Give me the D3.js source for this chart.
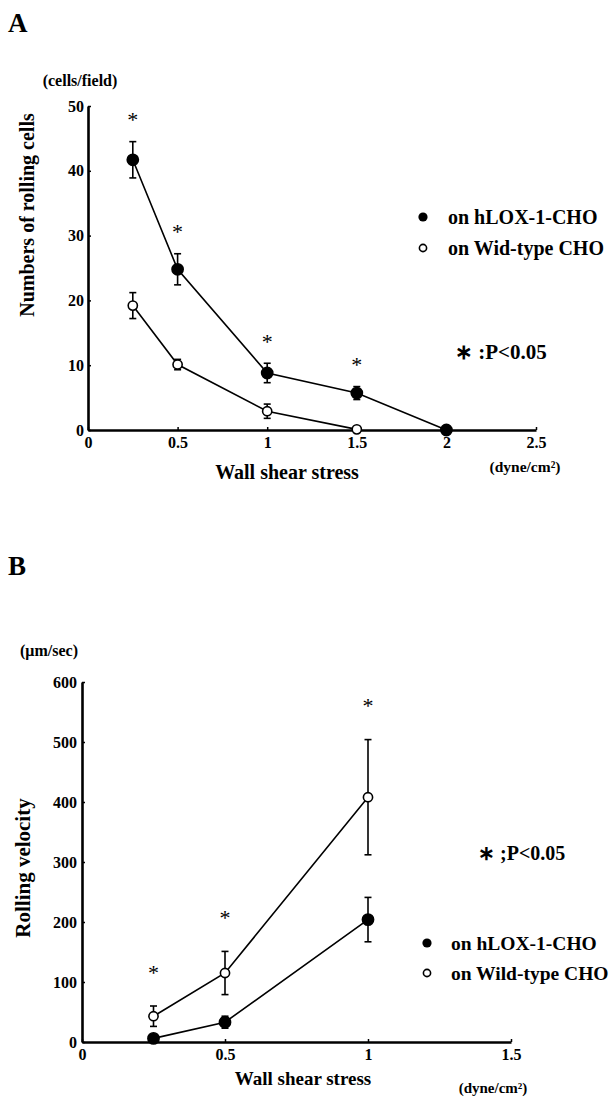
<!DOCTYPE html>
<html>
<head>
<meta charset="utf-8">
<script src="https://cdn.jsdelivr.net/npm/d3@7"></script>
<style>
  body { margin: 0; background: #fff; }
  svg text { font-family: "Liberation Serif", "Times New Roman", serif; fill: #000; }
</style>
</head>
<body>
<script>
// panel A - numbers of rolling cells
const shearA = [0.25, 0.5, 1, 1.5, 2]
const loxA = [41.7, 24.8, 8.8, 5.7, 0]
const loxErrA = [2.8, 2.4, 1.5, 1.0, 0]
const wildShearA = [0.25, 0.5, 1, 1.5]
const wildA = [19.2, 10.1, 2.9, 0.1]
const wildErrA = [2.0, 0.8, 1.1, 0]
const starsA = [0.25, 0.5, 1, 1.5]
const xTicksA = [0, 0.5, 1, 1.5, 2, 2.5]
const yTicksA = [0, 10, 20, 30, 40, 50]

// panel B - rolling velocity
const shearB = [0.25, 0.5, 1]
const loxB = [6, 33, 204]
const loxErrB = [0, 10, 37]
const wildB = [43, 115, 408]
const wildErrB = [17, 36, 96]
const starsB = [0.25, 0.5, 1]
const xTicksB = [0, 0.5, 1, 1.5]
const yTicksB = [0, 100, 200, 300, 400, 500, 600]

const legendLabels = ["on hLOX-1-CHO", "on Wid-type CHO", "on Wild-type CHO"]

let svg = d3.select("body").append("svg")
    .attr("width", 615)
    .attr("height", 1097)

function label(x, y, size, txt, anchor) {
    return svg.append("text").attr("x", x).attr("y", y)
        .attr("text-anchor", anchor || "start")
        .attr("font-size", size).attr("font-weight", "bold").text(txt)
}

function drawPanel(opt) {
    let x = d3.scaleLinear().domain(opt.xDomain).range(opt.xRange)
    let y = d3.scaleLinear().domain(opt.yDomain).range(opt.yRange)
    let g = svg.append("g")

    let fmt = d => String(d)

    g.append("g")
        .attr("transform", `translate(0,${opt.yRange[0]})`)
        .call(d3.axisBottom(x).tickValues(opt.xTicks).tickFormat(fmt).tickSizeInner(-3).tickSizeOuter(0).tickPadding(opt.xPad))
        .call(a => a.select(".domain").attr("stroke-width", 2.6))
        .call(a => a.selectAll("line").attr("stroke-width", 1.5))
        .call(a => a.selectAll("text").attr("font-size", 16).attr("font-weight", "bold")
            .attr("font-family", "Liberation Serif, serif"))

    g.append("g")
        .attr("transform", `translate(${opt.xRange[0]},0)`)
        .call(d3.axisLeft(y).tickValues(opt.yTicks).tickFormat(fmt).tickSizeInner(-3).tickSizeOuter(0).tickPadding(opt.yPad))
        .call(a => a.select(".domain").attr("stroke-width", 2.6))
        .call(a => a.selectAll("line").attr("stroke-width", 1.5))
        .call(a => a.selectAll("text").attr("font-size", 16).attr("font-weight", "bold")
            .attr("font-family", "Liberation Serif, serif"))

    let line = d3.line().x(d => x(d[0])).y(d => y(d[1]))

    opt.series.forEach(s => {
        let pts = s.xs.map((v, i) => [v, s.ys[i], s.err[i]])
        g.append("path")
            .datum(pts)
            .attr("d", line)
            .attr("fill", "none")
            .attr("stroke", "#000")
            .attr("stroke-width", 1.6)

        let eb = g.append("g")
        pts.filter(p => p[2] > 0).forEach(p => {
            let cx = x(p[0])
            eb.append("line").attr("x1", cx).attr("x2", cx)
                .attr("y1", y(p[1] + p[2])).attr("y2", y(p[1] - p[2]))
                .attr("stroke", "#000").attr("stroke-width", 1.6)
            ;[p[1] + p[2], p[1] - p[2]].forEach(v => {
                eb.append("line").attr("x1", cx - 3.5).attr("x2", cx + 3.5)
                    .attr("y1", y(v)).attr("y2", y(v))
                    .attr("stroke", "#000").attr("stroke-width", 1.6)
            })
        })

        g.append("g").selectAll("circle")
            .data(pts)
            .join("circle")
            .attr("cx", d => x(d[0]))
            .attr("cy", d => y(d[1]))
            .attr("r", s.filled ? 5.6 : 4.6)
            .attr("fill", s.filled ? "#000" : "#fff")
            .attr("stroke", "#000")
            .attr("stroke-width", 1.6)
    })

    // significance stars over highest error bar
    opt.stars.forEach(sx => {
        let top = d3.max(opt.series, s => {
            let i = s.xs.indexOf(sx)
            return i < 0 ? -Infinity : s.ys[i] + s.err[i]
        })
        g.append("text")
            .attr("x", x(sx))
            .attr("y", y(top) - opt.starGap)
            .attr("text-anchor", "middle")
            .attr("dominant-baseline", "central")
            .attr("font-size", 22)
            .text("*")
    })
    return { x, y }
}

// ---------- A ----------
label(8, 32, 27, "A")
label(80, 86, 16, "(cells/field)", "middle")
svg.append("text").attr("transform", "translate(34,215) rotate(-90)")
    .attr("text-anchor", "middle").attr("font-size", 20).attr("font-weight", "bold")
    .text("Numbers of rolling cells")

drawPanel({
    xDomain: [0, 2.5], xRange: [88, 536],
    yDomain: [0, 50], yRange: [430, 106],
    xTicks: xTicksA, yTicks: yTicksA, xPad: 7, yPad: 4,
    series: [
        { xs: wildShearA, ys: wildA, err: wildErrA, filled: false },
        { xs: shearA, ys: loxA, err: loxErrA, filled: true }
    ],
    stars: starsA, starGap: 22
})

label(287, 479, 20, "Wall shear stress", "middle")
label(525, 472, 15.5, "(dyne/cm²)", "middle")

let legA = svg.append("g")
legA.append("circle").attr("cx", 423).attr("cy", 217).attr("r", 4.6).attr("fill", "#000")
legA.append("circle").attr("cx", 423).attr("cy", 248).attr("r", 3.6).attr("fill", "#fff")
    .attr("stroke", "#000").attr("stroke-width", 1.6)
label(448, 224, 20, legendLabels[0])
label(448, 255, 20, legendLabels[1])
label(455, 359, 21, "∗ :P<0.05")

// ---------- B ----------
label(8, 575, 27, "B")
label(49, 656, 16, "(μm/sec)", "middle")
svg.append("text").attr("transform", "translate(30,868) rotate(-90)")
    .attr("text-anchor", "middle").attr("font-size", 21).attr("font-weight", "bold")
    .text("Rolling velocity")

drawPanel({
    xDomain: [0, 1.5], xRange: [82, 511],
    yDomain: [0, 600], yRange: [1042, 682],
    xTicks: xTicksB, yTicks: yTicksB, xPad: 7, yPad: 5,
    series: [
        { xs: shearB, ys: wildB, err: wildErrB, filled: false },
        { xs: shearB, ys: loxB, err: loxErrB, filled: true }
    ],
    stars: starsB, starGap: 34
})

label(303, 1085, 19, "Wall shear stress", "middle")
label(493, 1093, 15, "(dyne/cm²)", "middle")

let legB = svg.append("g")
legB.append("circle").attr("cx", 427).attr("cy", 943).attr("r", 4.6).attr("fill", "#000")
legB.append("circle").attr("cx", 427).attr("cy", 973).attr("r", 3.6).attr("fill", "#fff")
    .attr("stroke", "#000").attr("stroke-width", 1.6)
label(451, 950, 19.5, legendLabels[0])
label(451, 980, 19.5, legendLabels[2])
label(478, 860, 20, "∗ ;P<0.05")
</script>
</body>
</html>
